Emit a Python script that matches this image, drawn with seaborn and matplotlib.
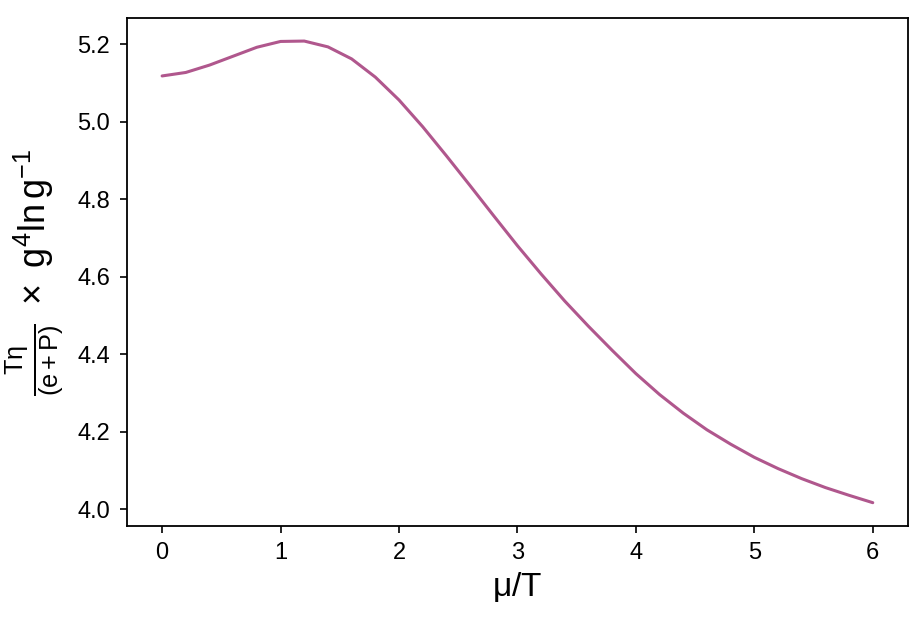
import numpy as np
import pandas as pd
import matplotlib
matplotlib.use("Agg")
import matplotlib.pyplot as plt
import seaborn as sns

mu_over_T = [0.0, 0.2, 0.4, 0.6, 0.8, 1.0, 1.2, 1.4, 1.6, 1.8, 2.0, 2.2, 2.4, 2.6, 2.8,
             3.0, 3.2, 3.4, 3.6, 3.8, 4.0, 4.2, 4.4, 4.6, 4.8, 5.0, 5.2, 5.4, 5.6, 5.8, 6.0]
eta_ratio = [5.118, 5.127, 5.146, 5.169, 5.192, 5.207, 5.208, 5.193, 5.162, 5.115, 5.056,
             4.987, 4.912, 4.835, 4.757, 4.680, 4.607, 4.537, 4.472, 4.410, 4.350, 4.296,
             4.248, 4.205, 4.168, 4.134, 4.105, 4.079, 4.056, 4.036, 4.017]

df = pd.DataFrame({"mu_over_T": mu_over_T, "eta": eta_ratio})

sns.set_style("ticks", {"axes.edgecolor": "black", "xtick.color": "black",
                        "ytick.color": "black", "text.color": "black",
                        "axes.labelcolor": "black"})
plt.rcParams["font.family"] = ["Liberation Sans", "DejaVu Sans"]
plt.rcParams["mathtext.fontset"] = "custom"
plt.rcParams["mathtext.rm"] = "Liberation Sans"
plt.rcParams["mathtext.it"] = "Liberation Sans"
plt.rcParams["mathtext.default"] = "regular"

fig = plt.figure(figsize=(9.24, 6.2), dpi=100)
ax = fig.add_axes([0.137, 0.152, 0.846, 0.819])
sns.lineplot(data=df, x="mu_over_T", y="eta", color="#b0578d", linewidth=2.2, ax=ax)

ax.set_xlabel(r"$\mu/T$", fontsize=24, labelpad=4)
ax.set_ylabel(r"$\frac{T\eta}{(e+P)}\ \times\ g^4 \ln g^{-1}$", fontsize=26, labelpad=8)
ax.set_xticks([0, 1, 2, 3, 4, 5, 6])
ax.set_yticks([4.0, 4.2, 4.4, 4.6, 4.8, 5.0, 5.2])
ax.tick_params(labelsize=17, length=5, width=1.2, pad=7, color="black", labelcolor="black")
for s in ax.spines.values():
    s.set_visible(True)
    s.set_linewidth(1.3)
    s.set_color("black")

fig.savefig("out.png", dpi=100)
